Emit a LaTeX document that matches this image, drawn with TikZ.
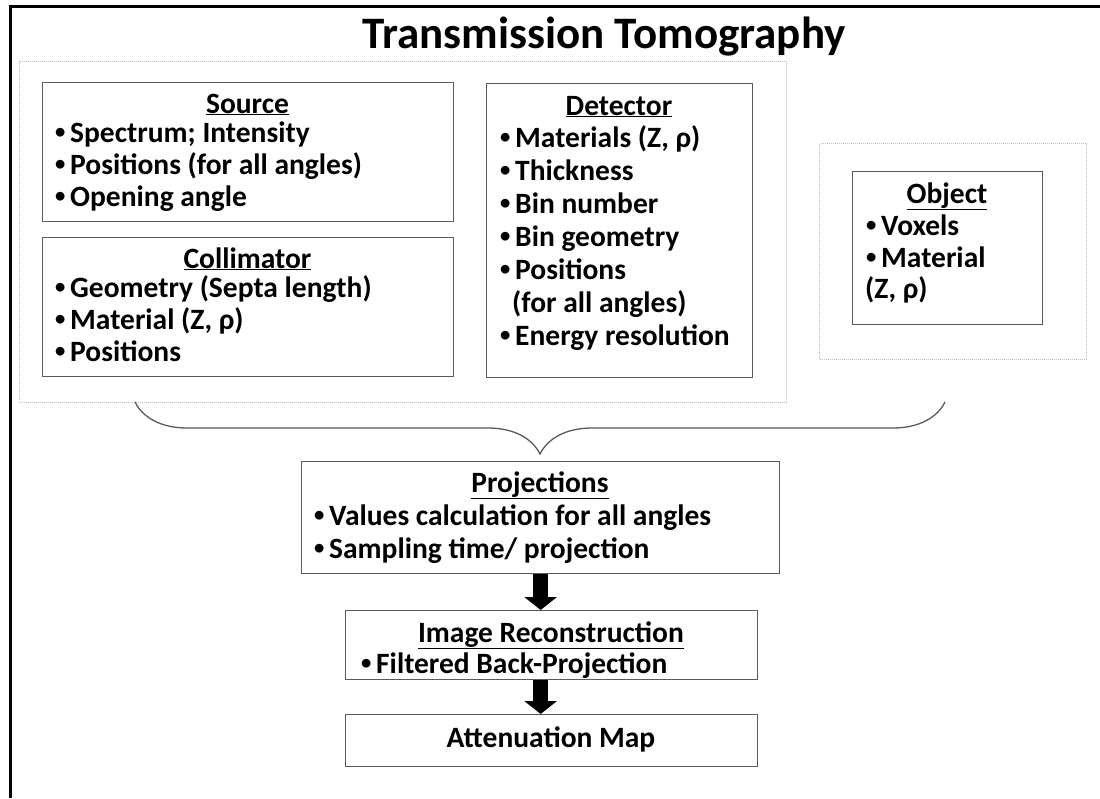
\documentclass[tikz,border=0pt]{standalone}
\usepackage{fontspec}
\setmainfont{Carlito}
\usetikzlibrary{arrows.meta, positioning, calc, decorations.pathreplacing}

\begin{document}
\begin{tikzpicture}[
    x=1pt, y=-1pt,
    every node/.style={font=\bfseries\fontsize{29.5}{34}\selectfont, inner sep=0pt},
    box/.style={draw=boxline, line width=1.3pt, rectangle, anchor=north west},
    group/.style={draw=dotline, line width=1.2pt, dash pattern=on 1pt off 1pt, rectangle, anchor=north west},
    head/.style={anchor=base},
    itemtext/.style={anchor=base west},
    blockarrow/.style={line width=15pt, draw=black, -{Triangle[width=32pt, length=13pt]}},
    bracepath/.style={draw=boxline, line width=1.3pt, decorate,
        decoration={brace, mirror, amplitude=52pt}},
]

\definecolor{boxline}{HTML}{5A5A5A}   % solid frames, brace
\definecolor{dotline}{HTML}{BDBDBD}   % the two dotted groups

\newcommand{\bul}{\makebox[15pt][l]{\raisebox{0.12em}{\scalebox{0.7}{\textbullet}}}}
\newcommand{\itemlines}[5]{%  #1 name, #2 x, #3 first baseline, #4 step, #5 lines
  \foreach \t [count=\i from 0] in {#5} {
    \node[itemtext] (#1-\i) at (#2, #3+\i*#4) {\t};
  }}

\useasboundingbox (0,0) rectangle (1100,798);

% ================================================================
% Units are pixels of the 1100 x 798 sheet, y running downwards.
%   dotted groups : left  x 19..786,  y 61..402
%                   right x 819..1086, y 143..359
%   brace         : y 402 .. 454, tip under the projections box
%   chain         : projections -> reconstruction -> map, x = 540
% ================================================================

% outer frame, only top and left edges fall on the sheet
\draw[line width=3pt] (10.5,798) -- (10.5,6.5) -- (1100,6.5);

\node[font=\bfseries\fontsize{45}{52}\selectfont, anchor=base] (title) at (604,48)
    {Transmission Tomography};

% ---------------------------------------------------------------- groups
\node[group, minimum width=767pt, minimum height=341pt] (grpL) at (19,61) {};
\node[group, minimum width=267pt, minimum height=216pt] (grpO) at (819,143) {};

% ---------------------------------------------------------------- source
\node[box, minimum width=411pt, minimum height=139pt] (source) at (42,82) {};
\node[head] (source-h) at (247.5,113) {\underline{Source}};
\itemlines{source}{55}{142}{32}{\bul Spectrum; Intensity,
    \bul Positions (for all angles), \bul Opening angle}

% ---------------------------------------------------------------- collimator
\node[box, minimum width=411pt, minimum height=139pt] (colli) at (42,237) {};
\node[head] (colli-h) at (247.5,268) {\underline{Collimator}};
\itemlines{colli}{55}{297}{32}{\bul Geometry (Septa length),
    {\bul Material (Z, ρ)}, \bul Positions}

% ---------------------------------------------------------------- detector
\node[box, minimum width=266pt, minimum height=294pt] (detect) at (486,83) {};
\node[head] (detect-h) at (619,115) {\underline{Detector}};
\itemlines{detect}{500}{147}{33}{{\bul Materials (Z, ρ)}, \bul Thickness,
    \bul Bin number, \bul Bin geometry, \bul Positions,
    \hspace*{12pt}(for all angles), \bul Energy resolution}

% ---------------------------------------------------------------- object
\node[box, minimum width=190pt, minimum height=153pt] (object) at (852,171) {};
\node[head] (object-h) at (947,203) {\underline{Object}};
\itemlines{object}{866}{235}{32}{\bul Voxels, \bul Material}
\node[itemtext] (object-zr) at (865,298) {(Z, ρ)};

% ---------------------------------------------------------------- brace
\coordinate (braceL) at (135,402);
\coordinate (braceR) at (945,402);
\draw[bracepath] (braceL) -- (braceR);

% ---------------------------------------------------------------- chain
\node[box, minimum width=478pt, minimum height=112pt] (proj) at (301,461) {};
\node[head] (proj-h) at (540,492) {\underline{Projections}};
\itemlines{proj}{314}{525}{33}{\bul Values calculation for all angles,
    \bul Sampling time/ projection}

\node[box, minimum width=412pt, minimum height=69pt] (recon) at (345,610) {};
\node[head] (recon-h) at (551,642) {\underline{Image Reconstruction}};
\itemlines{recon}{361}{673}{33}{\bul Filtered Back-Projection}

\node[box, minimum width=412pt, minimum height=52pt] (atten) at (345,714) {};
\node[head] (atten-h) at (551,747) {Attenuation Map};

\draw[blockarrow] (proj.south) -- (proj.south |- recon.north);
\draw[blockarrow] (proj.south |- recon.south) -- (proj.south |- atten.north);

\end{tikzpicture}
\end{document}
